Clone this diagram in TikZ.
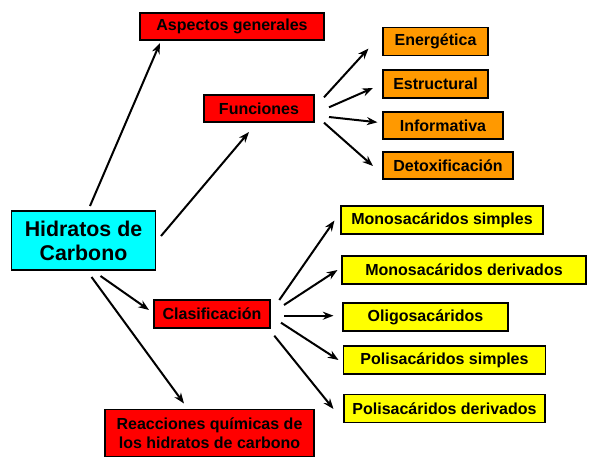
\documentclass[tikz,border=0pt]{standalone}
\usepackage{fontspec}
\setmainfont{Liberation Sans}
\usetikzlibrary{arrows.meta}
\definecolor{cRed}{HTML}{FF0000}
\definecolor{cOrange}{HTML}{FF9900}
\definecolor{cYellow}{HTML}{FFFF00}
\definecolor{cCyan}{HTML}{00FFFF}
\tikzset{
  bx/.style 2 args={draw=black, line width=1.3pt, inner sep=0pt,
    minimum width=#1*0.75pt, minimum height=#2*0.75pt, align=center,
    font=\fontsize{12}{14.3}\selectfont\bfseries},
  redbox/.style={fill=cRed},
  orbox/.style={fill=cOrange},
  yebox/.style={fill=cYellow},
  arr/.style={line width=1.5pt, -{Stealth[length=8pt,width=6pt]}}
}
\begin{document}
\begin{tikzpicture}[x=0.75pt,y=-0.75pt]
\useasboundingbox (0,0) rectangle (597,464);
% nodes
\node[bx={184}{27}, redbox] (asp) at (232,26.5) {Aspectos generales};
\node[bx={110}{27}, redbox] (fun) at (259,108.5) {Funciones};
\node[bx={144}{59}, fill=cCyan, font=\fontsize{16}{18}\selectfont\bfseries] (hid) at (83.5,240.5) {Hidratos de\\Carbono};
\node[bx={105}{28}, orbox] (ene) at (435.5,41.5) {Energética};
\node[bx={105}{28}, orbox] (est) at (435.5,84) {Estructural};
\node[bx={120}{27}, orbox] (inf) at (443,125.5) {Informativa};
\node[bx={130}{27}, orbox] (det) at (448,165.5) {Detoxificación};
\node[bx={202}{28}, yebox] (ms) at (442,220) {Monosacáridos simples};
\node[bx={244}{28}, yebox] (md) at (464,270) {Monosacáridos derivados};
\node[bx={165}{28}, yebox] (oli) at (425.5,317) {Oligosacáridos};
\node[bx={202}{28}, yebox] (ps) at (444.5,360) {Polisacáridos simples};
\node[bx={201}{28}, yebox] (pd) at (444.5,408.5) {Polisacáridos derivados};
\node[bx={116}{28}, redbox] (cla) at (212,314) {Clasificación};
\node[bx={209}{47}, redbox] (rea) at (209.5,433) {Reacciones químicas de\\los hidratos de carbono};
% arrow end points
\coordinate (h1) at (90,206);   \coordinate (asp1) at (160,43);
\coordinate (h2) at (161,236);  \coordinate (fun1) at (249,132);
\coordinate (h3) at (100.5,276); \coordinate (cla1) at (149,310);
\coordinate (h4) at (91.5,277); \coordinate (rea1) at (184,403.5);
\coordinate (f1) at (324,97.3);  \coordinate (ene1) at (368.5,48.5);
\coordinate (f2) at (329,107.3); \coordinate (est1) at (373,88);
\coordinate (f3) at (329,117);   \coordinate (inf1) at (377.5,122.3);
\coordinate (f4) at (324,122.7); \coordinate (det1) at (373,166);
\coordinate (c1) at (279.3,300); \coordinate (ms1) at (334.5,220.5);
\coordinate (c2) at (284,305);   \coordinate (md1) at (337.5,270);
\coordinate (c3) at (284,315.7); \coordinate (oli1) at (333.5,315.7);
\coordinate (c4) at (281,322.7); \coordinate (ps1) at (338.5,360);
\coordinate (c5) at (274.3,335.7); \coordinate (pd1) at (333.5,409);
% connectors
\draw[arr] (h1) -- (asp1);
\draw[arr] (h2) -- (fun1);
\draw[arr] (h3) -- (cla1);
\draw[arr] (h4) -- (rea1);
\draw[arr] (f1) -- (ene1);
\draw[arr] (f2) -- (est1);
\draw[arr] (f3) -- (inf1);
\draw[arr] (f4) -- (det1);
\draw[arr] (c1) -- (ms1);
\draw[arr] (c2) -- (md1);
\draw[arr] (c3) -- (oli1);
\draw[arr] (c4) -- (ps1);
\draw[arr] (c5) -- (pd1);
\end{tikzpicture}
\end{document}
